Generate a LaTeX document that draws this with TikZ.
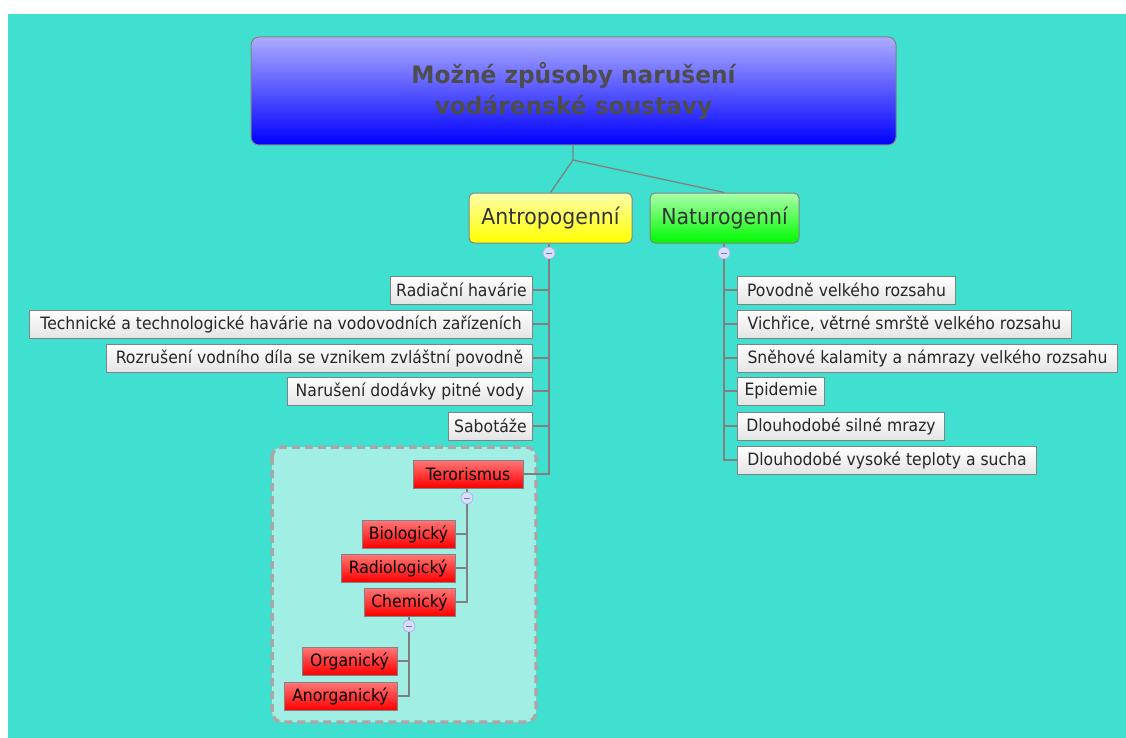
\documentclass[tikz,border=0pt]{standalone}
\usepackage{fontspec}
\setmainfont{DejaVu Sans}
\newfontfamily\leaffont{DejaVu Sans}[FakeStretch=0.92]
\newfontfamily\catfont{DejaVu Sans}[FakeStretch=0.93]
\newfontfamily\titlefont{DejaVu Sans}[FakeStretch=0.97]
\definecolor{teal}{RGB}{64,224,208}
\definecolor{grouptint}{RGB}{160,238,228}
\definecolor{groupline}{RGB}{168,168,168}
\definecolor{boxborder}{RGB}{130,130,130}
\definecolor{linegrey}{RGB}{128,128,128}
\definecolor{leafbot}{RGB}{228,228,228}
\definecolor{redtop}{RGB}{255,120,120}
\definecolor{redbot}{RGB}{255,0,0}
\definecolor{titletop}{RGB}{172,172,255}
\definecolor{titlebot}{RGB}{0,0,255}
\definecolor{titletext}{RGB}{77,77,77}
\definecolor{yeltop}{RGB}{255,255,170}
\definecolor{yelbot}{RGB}{255,255,0}
\definecolor{grntop}{RGB}{170,255,170}
\definecolor{grnbot}{RGB}{0,250,0}
\definecolor{circfill}{RGB}{216,222,255}
\definecolor{circline}{RGB}{170,180,230}
\definecolor{circminus}{RGB}{110,120,175}
\begin{document}
\begin{tikzpicture}[x=1pt,y=-1pt,
  leaf/.style={draw=boxborder, line width=1pt, top color=white, bottom color=leafbot,
    minimum height=28pt, inner sep=0pt, text=black!85,
    font=\leaffont\fontsize{17}{19}\selectfont},
  redleaf/.style={leaf, top color=redtop, bottom color=redbot, text=black},
  catbox/.style={draw=boxborder, line width=1pt, rounded corners=5pt,
    minimum height=50pt, inner sep=0pt, text=black!80,
    font=\catfont\fontsize{22}{26}\selectfont},
  conn/.style={draw=linegrey, line width=1.3pt},
  collapse/.style={circle, draw=circline, fill=circfill, line width=0.8pt,
    minimum size=12pt, inner sep=0pt,
    path picture={\draw[circminus, line width=0.8pt]
      ([xshift=-3pt]path picture bounding box.center) --
      ([xshift=3pt]path picture bounding box.center);}}
]
\useasboundingbox (0,0) rectangle (1126,738);
\fill[white] (0,0) rectangle (1126,738);
\fill[teal] (8,14) rectangle (1126,738);

% group box
\draw[groupline, fill=grouptint, line width=3.5pt, rounded corners=10pt,
  dash pattern=on 8pt off 5pt] (272,447) rectangle (536,722);

% title
\node[draw=boxborder, line width=1pt, rounded corners=8pt, top color=titletop,
  bottom color=titlebot, minimum width=645pt, minimum height=108pt, inner sep=0pt,
  align=center, text=titletext, font=\titlefont\bfseries\fontsize{24}{31}\selectfont]
  (title) at (573.5,91) {Možné způsoby narušení\\vodárenské soustavy};

% categories
\node[catbox, top color=yeltop, bottom color=yelbot, minimum width=163pt]
  (antro) at (550.5,218) {Antropogenní};
\node[catbox, top color=grntop, bottom color=grnbot, minimum width=149pt]
  (natur) at (724.5,218) {Naturogenní};

\coordinate (hub) at (573,160);
\draw[conn] (title.south -| hub) -- (hub) -- (antro.north);
\draw[conn] (hub) -- (natur.north);

% collapse markers
\node[collapse] (cA) at (549,253) {};
\node[collapse] (cN) at (724,253) {};

% left leaves
\node[leaf, anchor=east, minimum width=142pt] (l1) at (533,290) {Radiační havárie};
\node[leaf, anchor=east, minimum width=503pt] (l2) at (533,324) {Technické a technologické havárie na vodovodních zařízeních};
\node[leaf, anchor=east, minimum width=426pt] (l3) at (533,358) {Rozrušení vodního díla se vznikem zvláštní povodně};
\node[leaf, anchor=east, minimum width=245pt] (l4) at (533,391) {Narušení dodávky pitné vody};
\node[leaf, anchor=east, minimum width=84pt] (l5) at (533,426) {Sabotáže};
\node[redleaf, minimum width=110pt] (ter) at (468,474) {Terorismus};

% right leaves
\node[leaf, anchor=west, minimum width=218pt] (r1) at (737,290) {Povodně velkého rozsahu};
\node[leaf, anchor=west, minimum width=334pt] (r2) at (737,324) {Vichřice, větrné smrště velkého rozsahu};
\node[leaf, anchor=west, minimum width=380pt] (r3) at (737,358) {Sněhové kalamity a námrazy velkého rozsahu};
\node[leaf, anchor=west, minimum width=87pt] (r4) at (737,391) {Epidemie};
\node[leaf, anchor=west, minimum width=207pt] (r5) at (737,426) {Dlouhodobé silné mrazy};
\node[leaf, anchor=west, minimum width=299pt] (r6) at (737,460) {Dlouhodobé vysoké teploty a sucha};

% terrorism subtree
\node[collapse] (cT) at (467,498) {};
\node[redleaf, minimum width=93pt] (bio) at (408.5,534) {Biologický};
\node[redleaf, minimum width=114pt] (rad) at (398,568) {Radiologický};
\node[redleaf, minimum width=91pt] (chem) at (409.5,602) {Chemický};
\node[collapse] (cC) at (409,626) {};
\node[redleaf, minimum width=95pt] (org) at (349.5,661) {Organický};
\node[redleaf, minimum width=113pt] (anorg) at (340.5,696) {Anorganický};

% connectors
\draw[conn] (antro.south -| cA) -- (cA.north);
\draw[conn] (natur.south -| cN) -- (cN.north);
\foreach \n in {l1,l2,l3,l4,l5,ter} \draw[conn] (cA.south) |- (\n.east);
\foreach \n in {r1,r2,r3,r4,r5,r6} \draw[conn] (cN.south) |- (\n.west);
\draw[conn] (ter.south -| cT) -- (cT.north);
\foreach \n in {bio,rad,chem} \draw[conn] (cT.south) |- (\n.east);
\draw[conn] (chem.south -| cC) -- (cC.north);
\foreach \n in {org,anorg} \draw[conn] (cC.south) |- (\n.east);
\end{tikzpicture}
\end{document}
